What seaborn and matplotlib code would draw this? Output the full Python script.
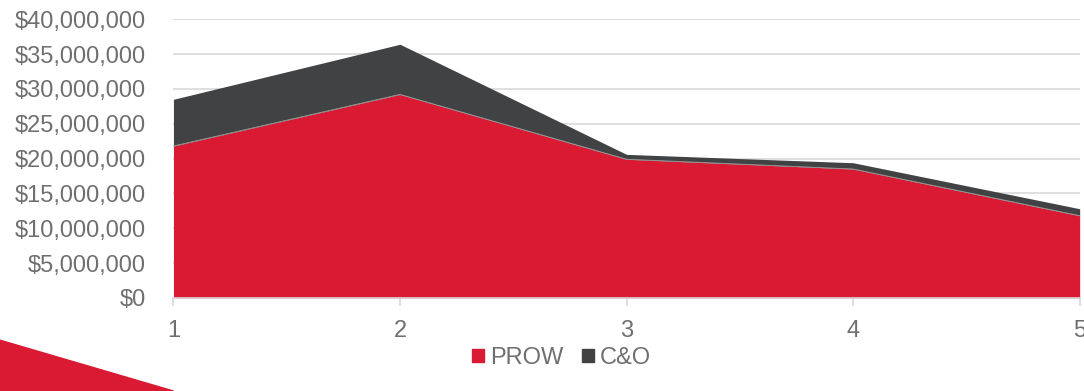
import seaborn as sns
import matplotlib.pyplot as plt
import matplotlib.patches as mpatches
import matplotlib.ticker as mticker
import pandas as pd

# data
periods = [1, 2, 3, 4, 5]
prow = [21.8e6, 29.2e6, 19.9e6, 18.5e6, 11.8e6]
c_and_o = [6.7e6, 7.2e6, 0.7e6, 0.9e6, 1.0e6]
series_names = ['PROW', 'C&O']

red = '#DA1A32'
dark = '#414244'
txt = '#6F6F6F'
grid = '#D9D9D9'

sns.set_theme(style='white')
plt.rcParams['font.family'] = ['Liberation Sans', 'DejaVu Sans']

df = pd.DataFrame({'periodo': periods, 'PROW': prow, 'C&O': c_and_o})
df['total'] = df['PROW'] + df['C&O']

fig = plt.figure(figsize=(10.84, 3.91), dpi=100)
ax = fig.add_axes([0.160, 0.238, 0.836, 0.713])

# decorative red swoosh bottom-left
fig.patches.append(mpatches.Polygon([(0, 0.13), (0.16, 0), (0, 0)], closed=True,
                                    transform=fig.transFigure, color=red, zorder=0))

# stacked area
ax.fill_between(df['periodo'], 0, df['PROW'], color=red, lw=0, zorder=2)
ax.fill_between(df['periodo'], df['PROW'], df['total'], color=dark, lw=0, zorder=2)
sns.lineplot(x='periodo', y='PROW', data=df, color='#a0a0a0', lw=0.6, ax=ax, zorder=3)

ax.set_xlim(1, 5)
ax.set_ylim(0, 40e6)
ax.set_yticks(range(0, 40000001, 5000000))
ax.set_xticks(periods)
ax.yaxis.set_major_formatter(mticker.FuncFormatter(lambda v, p: '${:,.0f}'.format(v)))
ax.grid(axis='y', color=grid, lw=1.2, zorder=1)
ax.set_axisbelow(True)
ax.set_xlabel('')
ax.set_ylabel('')
for s in ['top', 'right', 'left']:
    ax.spines[s].set_visible(False)
ax.spines['bottom'].set_color(grid)
ax.spines['bottom'].set_linewidth(1.2)
ax.spines['bottom'].set_zorder(4)
ax.tick_params(axis='y', length=0, labelsize=17, labelcolor=txt, pad=20)
ax.tick_params(axis='x', length=6, width=1.2, color=grid, labelsize=17, labelcolor=txt,
               direction='out', pad=10, bottom=True)

handles = [mpatches.Patch(color=red, label=series_names[0]),
           mpatches.Patch(color=dark, label=series_names[1])]
fig.legend(handles=handles, loc='center', bbox_to_anchor=(0.518, 0.085), ncol=2, frameon=False,
           fontsize=17, labelcolor=txt, handlelength=0.5, handleheight=0.5,
           handletextpad=0.25, columnspacing=0.8)

fig.savefig('out.png', dpi=100)
